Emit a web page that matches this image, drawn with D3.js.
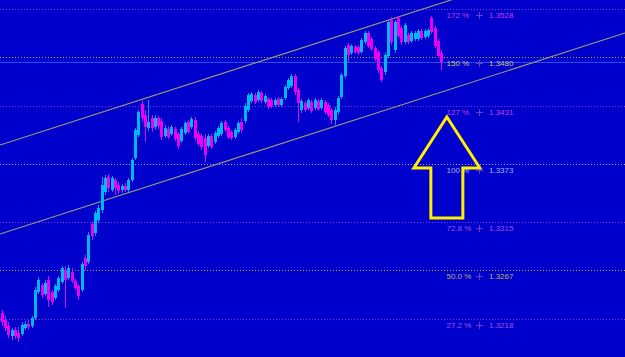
<!DOCTYPE html>
<html><head><meta charset="utf-8">
<script src="https://cdn.jsdelivr.net/npm/d3@7"></script>
<style>html,body{margin:0;padding:0;background:#0000cc;overflow:hidden}svg{display:block}</style>
</head><body><svg id="c" width="625" height="357"></svg>
<script>
const open=[1.3224,1.3217,1.3211,1.3201,1.3207,1.3204,1.3203,1.3209,1.3213,1.3211,
1.3219,1.3245,1.3252,1.3243,1.3257,1.3245,1.3239,1.3247,1.3255,1.3267,
1.3259,1.3265,1.3256,1.3251,1.3247,1.3279,1.3275,1.3313,1.3304,1.3317,
1.3327,1.3345,1.3360,1.3347,1.3357,1.3352,1.3347,1.3351,1.3347,1.3357,
1.3379,1.3402,1.3433,1.3422,1.3409,1.3419,1.3410,1.3419,1.3416,1.3401,
1.3408,1.3403,1.3408,1.3403,1.3396,1.3404,1.3415,1.3410,1.3417,1.3403,
1.3401,1.3399,1.3391,1.3401,1.3395,1.3401,1.3403,1.3415,1.3409,1.3405,
1.3400,1.3405,1.3415,1.3416,1.3427,1.3436,1.3442,1.3437,1.3444,1.3435,
1.3438,1.3437,1.3432,1.3438,1.3432,1.3439,1.3449,1.3451,1.3461,1.3447,
1.3427,1.3434,1.3429,1.3435,1.3429,1.3436,1.3429,1.3435,1.3432,1.3427,
1.3417,1.3425,1.3440,1.3461,1.3492,1.3484,1.3490,1.3490,1.3485,1.3495,
1.3504,1.3498,1.3489,1.3485,1.3469,1.3465,1.3481,1.3517,1.3487,1.3519,
1.3509,1.3495,1.3502,1.3496,1.3498,1.3498,1.3506,1.3500,1.3501,1.3519,
1.3509,1.3496,1.3484];
const close=[1.3215,1.3209,1.3202,1.3207,1.3201,1.3199,1.3212,1.3213,1.3210,1.3219,
1.3247,1.3257,1.3242,1.3254,1.3237,1.3235,1.3251,1.3259,1.3269,1.3257,
1.3269,1.3256,1.3249,1.3241,1.3273,1.3271,1.3302,1.3301,1.3324,1.3329,
1.3352,1.3359,1.3349,1.3359,1.3349,1.3346,1.3351,1.3347,1.3357,1.3377,
1.3407,1.3425,1.3419,1.3410,1.3415,1.3409,1.3419,1.3411,1.3400,1.3409,
1.3400,1.3410,1.3398,1.3391,1.3408,1.3414,1.3405,1.3418,1.3399,1.3393,
1.3390,1.3382,1.3401,1.3390,1.3404,1.3409,1.3414,1.3407,1.3400,1.3399,
1.3407,1.3414,1.3407,1.3431,1.3442,1.3443,1.3435,1.3445,1.3436,1.3441,
1.3430,1.3431,1.3437,1.3432,1.3438,1.3450,1.3457,1.3461,1.3445,1.3434,
1.3436,1.3427,1.3437,1.3426,1.3437,1.3428,1.3437,1.3425,1.3422,1.3417,
1.3427,1.3439,1.3462,1.3489,1.3482,1.3491,1.3485,1.3484,1.3497,1.3504,
1.3491,1.3488,1.3478,1.3467,1.3457,1.3482,1.3515,1.3495,1.3515,1.3501,
1.3495,1.3512,1.3495,1.3504,1.3504,1.3506,1.3499,1.3506,1.3507,1.3505,
1.3491,1.3481,1.3475];
const high=[1.3227,1.3221,1.3215,1.3209,1.3210,1.3210,1.3215,1.3216,1.3217,1.3221,
1.3250,1.3260,1.3254,1.3257,1.3261,1.3247,1.3253,1.3261,1.3271,1.3271,
1.3272,1.3269,1.3258,1.3253,1.3275,1.3282,1.3305,1.3315,1.3326,1.3332,
1.3360,1.3362,1.3363,1.3361,1.3359,1.3355,1.3353,1.3354,1.3359,1.3379,
1.3409,1.3427,1.3437,1.3427,1.3437,1.3422,1.3422,1.3421,1.3419,1.3412,
1.3411,1.3412,1.3410,1.3405,1.3410,1.3416,1.3417,1.3420,1.3420,1.3406,
1.3403,1.3403,1.3403,1.3403,1.3406,1.3411,1.3416,1.3417,1.3411,1.3407,
1.3409,1.3416,1.3419,1.3434,1.3444,1.3445,1.3444,1.3447,1.3446,1.3443,
1.3440,1.3439,1.3439,1.3440,1.3440,1.3452,1.3459,1.3463,1.3463,1.3449,
1.3438,1.3436,1.3439,1.3437,1.3439,1.3438,1.3439,1.3437,1.3434,1.3429,
1.3430,1.3441,1.3464,1.3491,1.3494,1.3493,1.3492,1.3492,1.3499,1.3506,
1.3506,1.3500,1.3491,1.3487,1.3471,1.3484,1.3517,1.3520,1.3517,1.3521,
1.3511,1.3514,1.3504,1.3506,1.3506,1.3508,1.3508,1.3508,1.3509,1.3521,
1.3511,1.3498,1.3487];
const low=[1.3211,1.3206,1.3199,1.3197,1.3198,1.3195,1.3201,1.3207,1.3207,1.3209,
1.3217,1.3243,1.3239,1.3241,1.3230,1.3232,1.3237,1.3245,1.3253,1.3229,
1.3257,1.3254,1.3247,1.3237,1.3245,1.3267,1.3273,1.3297,1.3301,1.3314,
1.3324,1.3342,1.3345,1.3345,1.3342,1.3343,1.3344,1.3345,1.3345,1.3355,
1.3377,1.3400,1.3415,1.3395,1.3406,1.3405,1.3407,1.3408,1.3397,1.3399,
1.3398,1.3401,1.3396,1.3388,1.3394,1.3402,1.3403,1.3408,1.3396,1.3391,
1.3387,1.3375,1.3389,1.3388,1.3393,1.3399,1.3401,1.3405,1.3398,1.3397,
1.3398,1.3403,1.3404,1.3414,1.3425,1.3434,1.3433,1.3435,1.3434,1.3433,
1.3428,1.3429,1.3430,1.3430,1.3430,1.3437,1.3447,1.3449,1.3442,1.3415,
1.3424,1.3425,1.3427,1.3424,1.3427,1.3426,1.3427,1.3423,1.3420,1.3413,
1.3412,1.3423,1.3438,1.3459,1.3475,1.3482,1.3483,1.3482,1.3483,1.3493,
1.3489,1.3486,1.3476,1.3464,1.3455,1.3462,1.3479,1.3492,1.3484,1.3499,
1.3492,1.3493,1.3493,1.3494,1.3496,1.3496,1.3497,1.3498,1.3499,1.3503,
1.3489,1.3479,1.3467];

const fibLabels=["172 %","150 %","127 %","100 %","72.8 %","50.0 %","27.2 %"];
const fibPrices=[1.3528,1.3480,1.3431,1.3373,1.3315,1.3267,1.3218];
const fibValueLabels=["1.3528","1.3480","1.3431","1.3373","1.3315","1.3267","1.3218"];
const fibLineColors=["#a030e0","#b0b040","#9030e0","#a8a8e8","#9030e0","#a8a848","#9030e0"];
const fibTextColors=["#c040e0","#c8c070","#c040e0","#a8b0f0","#a050e0","#b8b060","#a050e0"];
const channelStart=[1.3392,1.3303];
const channelEnd=[1.3593,1.3504];
const arrowIndex=133.7;
const arrowPrices=[1.3420,1.3369,1.3319]; // tip, head base, shaft bottom

const W=625,H=357;
const svg=d3.select("#c");
const x=d3.scaleLinear().domain([-0.5,187.2]).range([0,W]);
const y=d3.scaleLinear().domain([1.3180,1.3537]).range([H,0]);

svg.append("rect").attr("width",W).attr("height",H).attr("fill","#0000cc");

// fib lines
svg.append("g").selectAll("line").data(fibPrices).join("line")
  .attr("x1",0).attr("x2",W)
  .attr("y1",d=>Math.round(y(d))+0.5).attr("y2",d=>Math.round(y(d))+0.5)
  .attr("stroke",(d,i)=>fibLineColors[i]).attr("stroke-width",1)
  .attr("stroke-dasharray","1,2").attr("shape-rendering","crispEdges");

// current price line
const lastPrice=close[close.length-1];
svg.append("line").attr("x1",0).attr("x2",W)
  .attr("y1",Math.round(y(lastPrice))+0.5).attr("y2",Math.round(y(lastPrice))+0.5)
  .attr("stroke","#2c4ce6").attr("stroke-width",1).attr("shape-rendering","crispEdges");

// channel lines
svg.append("g").selectAll("line").data(channelStart).join("line")
  .attr("x1",x(-0.5)).attr("x2",x(187.2))
  .attr("y1",d=>y(d)).attr("y2",(d,i)=>y(channelEnd[i]))
  .attr("stroke","#a09c72").attr("stroke-width",1.1);

// candles
const idx=d3.range(open.length);
const g=svg.append("g").attr("shape-rendering","crispEdges");
const col=i=>close[i]>=open[i]?"#00b8ff":"#f000f0";
const wcol=i=>close[i]>=open[i]?"#1a90ff":"#d010e8";
g.selectAll("line.w").data(idx).join("line").attr("class","w")
  .attr("x1",i=>Math.round(x(i))+0.5).attr("x2",i=>Math.round(x(i))+0.5)
  .attr("y1",i=>y(high[i])).attr("y2",i=>y(low[i]))
  .attr("stroke",wcol).attr("stroke-width",1);
g.selectAll("rect.b").data(idx).join("rect").attr("class","b")
  .attr("x",i=>Math.round(x(i))-1)
  .attr("width",3)
  .attr("y",i=>y(Math.max(open[i],close[i])))
  .attr("height",i=>Math.max(1,Math.abs(y(open[i])-y(close[i]))))
  .attr("fill",col);

// labels
const lg=svg.append("g").style("font-family","'Liberation Sans',Arial,sans-serif").style("font-size","8px");
fibPrices.forEach((p,i)=>{
  const ly=Math.round(y(p));
  lg.append("text").attr("x",446.5).attr("y",ly+9).attr("fill",fibTextColors[i]).text(fibLabels[i]);
  lg.append("text").attr("x",489).attr("y",ly+9).attr("fill",fibTextColors[i]).text(fibValueLabels[i]);
  lg.append("line").attr("x1",475.5).attr("x2",482.5).attr("y1",ly+6.5).attr("y2",ly+6.5)
    .attr("stroke","#6a40c0").attr("shape-rendering","crispEdges");
  lg.append("line").attr("x1",479.5).attr("x2",479.5).attr("y1",ly+3).attr("y2",ly+10)
    .attr("stroke","#6a40c0").attr("shape-rendering","crispEdges");
});

// arrow
const ax=x(arrowIndex), tipY=y(arrowPrices[0]), headY=y(arrowPrices[1]), botY=y(arrowPrices[2]);
const hw=33, sw=16;
const pts=[[ax,tipY],[ax+hw,headY],[ax+sw,headY],[ax+sw,botY],[ax-sw,botY],[ax-sw,headY],[ax-hw,headY]];
svg.append("path").attr("d",d3.line()(pts)+"Z")
  .attr("fill","none").attr("stroke","#ffee00").attr("stroke-width",3).attr("stroke-linejoin","miter");
</script>
</body></html>
